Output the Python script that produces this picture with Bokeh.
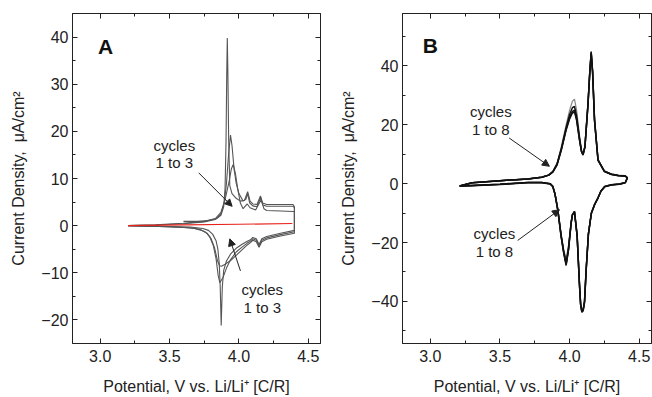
from bokeh.plotting import figure
from bokeh.layouts import row
from bokeh.models import (FixedTicker, LinearAxis, Range1d, Arrow, NormalHead,
                          CustomJSTickFormatter, PrintfTickFormatter, Label)
from bokeh.embed import file_html
from bokeh.resources import INLINE

FONT = "Liberation Sans"

# ---------------- Panel A data ----------------
A_c1_x = [3.60, 3.70, 3.78, 3.84, 3.87, 3.89, 3.90, 3.907, 3.912, 3.916, 3.920, 3.926, 3.934, 3.95, 3.98,
          4.01, 4.04, 4.063, 4.08, 4.10, 4.13, 4.155, 4.17, 4.20, 4.30, 4.39, 4.40,
          4.40, 4.30, 4.20, 4.165, 4.145, 4.125, 4.10, 4.083, 4.06, 4.02, 3.98, 3.94, 3.91, 3.89, 3.88,
          3.872, 3.865, 3.858, 3.848, 3.835, 3.81, 3.78, 3.74, 3.65, 3.50, 3.35, 3.20]
A_c1_y = [0.9, 0.9, 1.1, 1.5, 2.2, 4.0, 8.0, 18.0, 32.0, 39.8, 33.0, 18.0, 8.5, 6.8, 5.8,
          5.2, 5.4, 7.2, 5.2, 4.6, 4.5, 6.3, 4.8, 4.5, 4.5, 4.5, 4.0,
          -1.0, -1.6, -2.3, -2.8, -4.0, -2.8, -2.5, -3.0, -3.3, -4.0, -4.8, -6.0, -7.5, -9.5, -13.0,
          -21.2, -13.0, -8.0, -5.0, -3.2, -1.8, -1.0, -0.6, -0.3, -0.2, -0.1, 0.0]

A_c2_x = [3.20, 3.40, 3.60, 3.75, 3.83, 3.87, 3.895, 3.91, 3.925, 3.939, 3.95, 3.965, 3.98, 4.00, 4.03,
          4.05, 4.062, 4.078, 4.10, 4.13, 4.157, 4.172, 4.20, 4.30, 4.39, 4.40,
          4.40, 4.30, 4.20, 4.165, 4.145, 4.125, 4.10, 4.083, 4.06, 4.02, 3.98, 3.94, 3.91, 3.885, 3.862,
          3.85, 3.835, 3.815, 3.79, 3.76, 3.72, 3.65, 3.50, 3.35, 3.20]
A_c2_y = [0.0, 0.15, 0.4, 0.8, 1.3, 2.5, 5.0, 9.0, 15.0, 19.2, 17.0, 12.0, 9.0, 6.8, 5.2,
          5.6, 6.8, 4.8, 4.2, 4.0, 6.0, 4.4, 4.1, 4.1, 4.1, 3.8,
          -1.3, -1.9, -2.6, -3.1, -4.3, -3.1, -2.8, -3.3, -3.7, -4.6, -5.6, -7.2, -9.0, -11.0, -12.1,
          -10.5, -7.0, -4.2, -2.4, -1.4, -0.8, -0.45, -0.25, -0.1, 0.0]

A_c3_x = [3.20, 3.40, 3.60, 3.75, 3.83, 3.87, 3.90, 3.93, 3.945, 3.959, 3.975, 3.99, 4.01, 4.03, 4.06,
          4.08, 4.12, 4.16, 4.18, 4.20, 4.30, 4.39, 4.40,
          4.40, 4.30, 4.20, 4.165, 4.145, 4.125, 4.10, 4.083, 4.06, 4.02, 3.98, 3.94, 3.90, 3.875, 3.86,
          3.845, 3.825, 3.80, 3.77, 3.73, 3.68, 3.60, 3.50, 3.35, 3.20]
A_c3_y = [0.0, 0.2, 0.5, 0.9, 1.5, 2.8, 5.5, 9.5, 12.0, 13.0, 11.0, 8.0, 4.8, 3.6, 4.6,
          3.8, 3.3, 5.5, 3.6, 3.2, 3.1, 3.0, 3.0,
          -1.6, -2.2, -2.9, -3.4, -4.6, -3.4, -3.1, -3.6, -4.1, -5.2, -6.3, -7.4, -8.2, -8.6, -8.5,
          -7.4, -4.8, -2.8, -1.6, -1.0, -0.6, -0.4, -0.25, -0.1, 0.0]

A_red_x = [3.20, 3.60, 4.00, 4.385]
A_red_y = [0.0, 0.15, 0.30, 0.45]

# ---------------- Panel B data ----------------
B_x = [3.21, 3.30, 3.50, 3.70, 3.80, 3.85, 3.88, 3.91, 3.94, 3.975, 4.00, 4.02, 4.035, 4.05, 4.071,
       4.085, 4.096, 4.11, 4.132, 4.145, 4.155, 4.165, 4.179, 4.204, 4.25, 4.30, 4.35, 4.40, 4.415,
       4.40, 4.36, 4.30, 4.252, 4.225, 4.204, 4.18, 4.156, 4.135, 4.119, 4.107, 4.097, 4.088, 4.079,
       4.071, 4.054, 4.035, 4.02, 4.011, 3.992, 3.975, 3.958, 3.939, 3.915, 3.895, 3.879, 3.86, 3.80,
       3.70, 3.50, 3.30, 3.21]
B_c1_y = [-0.8, 0.3, 1.0, 1.6, 2.2, 3.0, 4.2, 7.0, 12.5, 20.0, 25.0, 28.0, 28.7, 25.0, 16.5,
          11.5, 10.0, 12.8, 27.5, 38.5, 45.0, 38.5, 22.0, 8.3, 4.3, 3.3, 2.9, 2.7, 2.1,
          0.4, -0.1, -0.4, -1.0, -2.5, -4.8, -7.0, -10.0, -17.0, -29.0, -40.0, -42.5, -43.0, -40.5,
          -34.0, -17.5, -9.8, -10.8, -13.0, -21.0, -25.5, -22.5, -17.0, -8.5, -3.4, -0.9, 0.0, 0.4,
          0.4, -0.2, -0.6, -0.8]
B_c2_y = [-0.8, 0.3, 1.0, 1.6, 2.2, 2.9, 4.1, 6.7, 11.8, 19.0, 23.5, 25.8, 26.2, 23.0, 15.5,
          11.2, 9.9, 12.6, 27.2, 38.2, 44.8, 38.2, 21.8, 8.1, 4.2, 3.2, 2.8, 2.6, 2.0,
          0.4, -0.1, -0.4, -1.0, -2.5, -4.8, -7.0, -10.0, -17.0, -29.0, -40.0, -43.0, -43.5, -41.0,
          -34.5, -17.8, -9.6, -10.6, -13.2, -22.0, -27.0, -23.2, -17.6, -8.8, -3.5, -0.9, 0.0, 0.4,
          0.4, -0.2, -0.6, -0.8]
B_c3_y = [-0.8, 0.3, 1.0, 1.6, 2.2, 2.9, 4.0, 6.5, 11.5, 18.5, 22.5, 24.5, 25.0, 22.0, 15.0,
          11.0, 9.8, 12.5, 27.0, 38.0, 44.5, 38.0, 21.5, 8.0, 4.2, 3.2, 2.8, 2.6, 2.0,
          0.4, -0.1, -0.4, -1.0, -2.5, -4.8, -7.0, -10.0, -17.0, -29.0, -40.0, -43.0, -43.7, -41.0,
          -34.7, -17.8, -9.4, -10.5, -13.3, -22.3, -27.4, -23.4, -17.8, -8.8, -3.5, -0.9, 0.0, 0.4,
          0.4, -0.2, -0.6, -0.8]
B_c4_y = [-0.8, 0.3, 1.0, 1.6, 2.2, 2.9, 4.0, 6.4, 11.3, 18.2, 22.0, 24.0, 24.4, 21.6, 14.8,
          10.9, 9.7, 12.4, 26.8, 37.6, 44.0, 37.6, 21.2, 7.9, 4.1, 3.1, 2.7, 2.5, 1.9,
          0.3, -0.2, -0.5, -1.1, -2.6, -4.9, -7.1, -10.2, -17.3, -29.5, -40.5, -43.2, -43.4, -40.8,
          -34.2, -17.5, -9.5, -10.6, -13.5, -22.6, -27.8, -23.7, -18.0, -9.0, -3.6, -1.0, -0.1, 0.3,
          0.3, -0.3, -0.7, -0.8]

X_TICKS = [3.0, 3.5, 4.0, 4.5]
X_MINOR = [3.25, 3.75, 4.25]
A_Y_TICKS = [-20, -10, 0, 10, 20, 30, 40]
A_Y_MINOR = [-15, -5, 5, 15, 25, 35]
B_Y_TICKS = [-40, -20, 0, 20, 40]
B_Y_MINOR = [-50, -30, -10, 10, 30, 50]

X_LABEL = "Potential, V vs. Li/Li\u207a [C/R]"
Y_LABEL = "Current Density, \u00a0\u03bcA/cm\u00b2"

# annotation positions (data units)
A_NOTES = [("cycles", 3.534, 17.0), ("1 to 3", 3.534, 13.4),
           ("cycles", 4.168, -13.5), ("1 to 3", 4.168, -17.3)]
A_ARROWS = [(3.71, 11.2, 3.951, 4.1), (4.011, -9.6, 3.934, -2.8)]
B_NOTES = [("cycles", 3.434, 24.4), ("1 to 8", 3.434, 18.3),
           ("cycles", 3.46, -17.1), ("1 to 8", 3.46, -22.9)]
B_ARROWS = [(3.566, 15.5, 3.855, 5.9), (3.627, -19.3, 3.927, -8.85)]


def style_axis(ax, ticks, minor, labels=True):
    ax.ticker = FixedTicker(ticks=ticks, minor_ticks=minor)
    ax.major_tick_in = 5
    ax.major_tick_out = 0
    ax.minor_tick_in = 3
    ax.minor_tick_out = 0
    ax.axis_line_color = "#222222"
    ax.major_tick_line_color = "#222222"
    ax.minor_tick_line_color = "#222222"
    ax.major_label_text_font = FONT
    ax.major_label_text_font_size = "16px"
    ax.major_label_text_color = "#222222"
    ax.axis_label_text_font = FONT
    ax.axis_label_text_font_size = "16px"
    ax.axis_label_text_font_style = "normal"
    ax.axis_label_text_color = "#222222"
    if not labels:
        ax.formatter = CustomJSTickFormatter(code="return ''")


def make_fig(yr, yticks, yminor, width, right_border):
    p = figure(width=width, height=397, x_range=Range1d(2.8, 4.588), y_range=Range1d(*yr),
               output_backend="svg", toolbar_location=None,
               min_border_left=72, min_border_right=right_border,
               min_border_top=13, min_border_bottom=52)
    p.grid.visible = False
    p.outline_line_color = "#222222"
    p.background_fill_color = "white"
    p.border_fill_color = "white"
    style_axis(p.xaxis[0], X_TICKS, X_MINOR)
    style_axis(p.yaxis[0], yticks, yminor)
    p.xaxis[0].formatter = PrintfTickFormatter(format="%.1f")
    p.xaxis[0].axis_label = X_LABEL
    p.yaxis[0].axis_label = Y_LABEL
    p.xaxis[0].major_label_standoff = 6
    p.yaxis[0].major_label_standoff = 4
    p.xaxis[0].axis_label_standoff = 13
    p.yaxis[0].axis_label_standoff = 11
    top = LinearAxis()
    style_axis(top, X_TICKS, X_MINOR, labels=False)
    right = LinearAxis()
    style_axis(right, yticks, yminor, labels=False)
    p.add_layout(top, "above")
    p.add_layout(right, "right")
    return p


def annotate(p, notes, arrows, letter, lx, ly):
    for t, x, y in notes:
        p.add_layout(Label(x=x, y=y, text=t, text_align="center", text_baseline="middle",
                           text_font=FONT, text_font_size="15px", text_color="#222222"))
    for x0, y0, x1, y1 in arrows:
        p.add_layout(Arrow(x_start=x0, y_start=y0, x_end=x1, y_end=y1, line_color="#222222",
                           line_width=1,
                           end=NormalHead(size=7, fill_color="#222222", line_color="#222222")))
    p.add_layout(Label(x=lx, y=ly, text=letter, text_align="center", text_baseline="middle",
                       text_font=FONT, text_font_size="21px", text_font_style="bold",
                       text_color="#111111"))


pA = make_fig((-25, 45), A_Y_TICKS, A_Y_MINOR, 330, 10)
for xs, ys in [(A_c1_x, A_c1_y), (A_c2_x, A_c2_y), (A_c3_x, A_c3_y)]:
    pA.line(xs, ys, line_color="#555555", line_width=1.1)
pA.line(A_red_x, A_red_y, line_color="#e8231c", line_width=1.2)
annotate(pA, A_NOTES, A_ARROWS, "A", 3.038, 38.0)

pB = make_fig((-54.3, 57.8), B_Y_TICKS, B_Y_MINOR, 322, 1)
pB.line(B_x, B_c1_y, line_color="#888888", line_width=1.2)
for ys in [B_c2_y, B_c3_y, B_c4_y]:
    pB.line(B_x, ys, line_color="#111111", line_width=1.5)
annotate(pB, B_NOTES, B_ARROWS, "B", 3.0, 47.0)

layout = row(pA, pB)
open("out.html", "w").write(file_html(layout, INLINE))
